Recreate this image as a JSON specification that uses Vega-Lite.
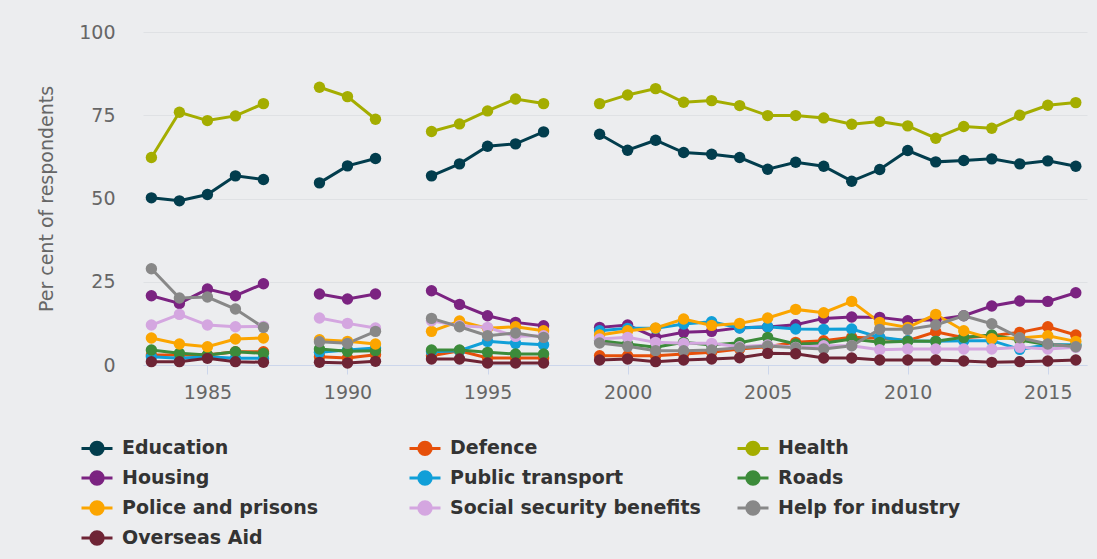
{
  "$schema": "https://vega.github.io/schema/vega-lite/v6.json",
  "width": 944,
  "height": 333,
  "autosize": "none",
  "padding": {"left": 143, "top": 32, "right": 10, "bottom": 194},
  "background": "#ecedef",
  "config": {"view": {"stroke": null}, "font": "DejaVu Sans"},
  "data": {"values": [
    {"year": 1983, "p": 1, "Education": 50.2, "Defence": 3.0, "Health": 62.3, "Housing": 20.8, "Public transport": 2.5, "Roads": 4.5, "Police and prisons": 8.1, "Social security benefits": 12.0, "Help for industry": 28.9, "Overseas Aid": 1.0},
    {"year": 1984, "p": 1, "Education": 49.3, "Defence": 3.0, "Health": 75.9, "Housing": 18.5, "Public transport": 2.0, "Roads": 3.5, "Police and prisons": 6.3, "Social security benefits": 15.2, "Help for industry": 20.1, "Overseas Aid": 1.0},
    {"year": 1985, "p": 1, "Education": 51.2, "Defence": 3.0, "Health": 73.4, "Housing": 22.8, "Public transport": 2.5, "Roads": 3.0, "Police and prisons": 5.5, "Social security benefits": 12.0, "Help for industry": 20.4, "Overseas Aid": 2.0},
    {"year": 1986, "p": 1, "Education": 56.8, "Defence": 4.0, "Health": 74.8, "Housing": 20.8, "Public transport": 2.0, "Roads": 4.0, "Police and prisons": 7.8, "Social security benefits": 11.5, "Help for industry": 16.8, "Overseas Aid": 1.0},
    {"year": 1987, "p": 1, "Education": 55.7, "Defence": 4.0, "Health": 78.5, "Housing": 24.4, "Public transport": 2.0, "Roads": 3.5, "Police and prisons": 8.1, "Social security benefits": 11.6, "Help for industry": 11.3, "Overseas Aid": 0.8},
    {"year": 1989, "p": 2, "Education": 54.7, "Defence": 2.5, "Health": 83.4, "Housing": 21.3, "Public transport": 3.8, "Roads": 4.8, "Police and prisons": 7.6, "Social security benefits": 14.1, "Help for industry": 7.0, "Overseas Aid": 0.8},
    {"year": 1990, "p": 2, "Education": 59.8, "Defence": 2.1, "Health": 80.6, "Housing": 19.8, "Public transport": 4.5, "Roads": 4.1, "Police and prisons": 7.1, "Social security benefits": 12.5, "Help for industry": 6.5, "Overseas Aid": 0.6},
    {"year": 1991, "p": 2, "Education": 62.0, "Defence": 3.1, "Health": 73.8, "Housing": 21.3, "Public transport": 5.1, "Roads": 4.3, "Police and prisons": 6.3, "Social security benefits": 11.1, "Help for industry": 10.1, "Overseas Aid": 1.1},
    {"year": 1993, "p": 3, "Education": 56.8, "Defence": 2.8, "Health": 70.1, "Housing": 22.3, "Public transport": 4.0, "Roads": 4.5, "Police and prisons": 10.1, "Social security benefits": 13.3, "Help for industry": 14.0, "Overseas Aid": 1.8},
    {"year": 1994, "p": 3, "Education": 60.4, "Defence": 4.3, "Health": 72.4, "Housing": 18.2, "Public transport": 4.3, "Roads": 4.5, "Police and prisons": 13.2, "Social security benefits": 11.8, "Help for industry": 11.5, "Overseas Aid": 1.8},
    {"year": 1995, "p": 3, "Education": 65.7, "Defence": 2.1, "Health": 76.3, "Housing": 14.8, "Public transport": 7.1, "Roads": 3.8, "Police and prisons": 11.0, "Social security benefits": 11.3, "Help for industry": 8.8, "Overseas Aid": 0.6},
    {"year": 1996, "p": 3, "Education": 66.4, "Defence": 2.1, "Health": 79.9, "Housing": 12.8, "Public transport": 6.5, "Roads": 3.3, "Police and prisons": 11.5, "Social security benefits": 8.6, "Help for industry": 9.6, "Overseas Aid": 0.6},
    {"year": 1997, "p": 3, "Education": 70.0, "Defence": 2.1, "Health": 78.5, "Housing": 11.8, "Public transport": 6.1, "Roads": 3.3, "Police and prisons": 10.3, "Social security benefits": 8.8, "Help for industry": 8.3, "Overseas Aid": 0.6},
    {"year": 1999, "p": 4, "Education": 69.3, "Defence": 2.8, "Health": 78.5, "Housing": 11.3, "Public transport": 10.3, "Roads": 7.3, "Police and prisons": 9.0, "Social security benefits": 7.8, "Help for industry": 6.6, "Overseas Aid": 1.5},
    {"year": 2000, "p": 4, "Education": 64.5, "Defence": 2.8, "Health": 81.1, "Housing": 12.0, "Public transport": 11.0, "Roads": 6.3, "Police and prisons": 10.3, "Social security benefits": 8.3, "Help for industry": 5.6, "Overseas Aid": 1.8},
    {"year": 2001, "p": 4, "Education": 67.5, "Defence": 2.8, "Health": 83.0, "Housing": 8.3, "Public transport": 11.0, "Roads": 5.3, "Police and prisons": 11.1, "Social security benefits": 6.8, "Help for industry": 4.3, "Overseas Aid": 1.0},
    {"year": 2002, "p": 4, "Education": 63.8, "Defence": 3.3, "Health": 78.9, "Housing": 9.8, "Public transport": 12.3, "Roads": 6.8, "Police and prisons": 13.8, "Social security benefits": 6.5, "Help for industry": 4.3, "Overseas Aid": 1.5},
    {"year": 2003, "p": 4, "Education": 63.3, "Defence": 3.8, "Health": 79.4, "Housing": 10.1, "Public transport": 13.0, "Roads": 6.0, "Police and prisons": 11.9, "Social security benefits": 6.5, "Help for industry": 4.5, "Overseas Aid": 1.8},
    {"year": 2004, "p": 4, "Education": 62.3, "Defence": 4.8, "Health": 77.9, "Housing": 11.2, "Public transport": 11.1, "Roads": 6.7, "Police and prisons": 12.5, "Social security benefits": 5.5, "Help for industry": 5.2, "Overseas Aid": 2.2},
    {"year": 2005, "p": 4, "Education": 58.8, "Defence": 5.5, "Health": 74.9, "Housing": 11.4, "Public transport": 11.5, "Roads": 8.3, "Police and prisons": 14.1, "Social security benefits": 6.0, "Help for industry": 5.7, "Overseas Aid": 3.5},
    {"year": 2006, "p": 4, "Education": 60.9, "Defence": 6.8, "Health": 74.9, "Housing": 12.1, "Public transport": 10.8, "Roads": 6.3, "Police and prisons": 16.7, "Social security benefits": 5.3, "Help for industry": 5.2, "Overseas Aid": 3.4},
    {"year": 2007, "p": 4, "Education": 59.7, "Defence": 7.3, "Health": 74.2, "Housing": 14.0, "Public transport": 10.7, "Roads": 6.5, "Police and prisons": 15.7, "Social security benefits": 5.8, "Help for industry": 4.8, "Overseas Aid": 2.1},
    {"year": 2008, "p": 4, "Education": 55.2, "Defence": 8.3, "Health": 72.3, "Housing": 14.4, "Public transport": 10.8, "Roads": 7.8, "Police and prisons": 19.1, "Social security benefits": 5.8, "Help for industry": 5.8, "Overseas Aid": 2.1},
    {"year": 2009, "p": 4, "Education": 58.7, "Defence": 8.0, "Health": 73.1, "Housing": 14.3, "Public transport": 8.3, "Roads": 6.8, "Police and prisons": 12.8, "Social security benefits": 4.6, "Help for industry": 10.7, "Overseas Aid": 1.5},
    {"year": 2010, "p": 4, "Education": 64.4, "Defence": 7.3, "Health": 71.8, "Housing": 13.3, "Public transport": 7.3, "Roads": 7.1, "Police and prisons": 11.3, "Social security benefits": 4.8, "Help for industry": 10.7, "Overseas Aid": 1.5},
    {"year": 2011, "p": 4, "Education": 61.0, "Defence": 10.0, "Health": 68.1, "Housing": 13.6, "Public transport": 7.1, "Roads": 7.1, "Police and prisons": 15.2, "Social security benefits": 4.8, "Help for industry": 12.0, "Overseas Aid": 1.5},
    {"year": 2012, "p": 4, "Education": 61.4, "Defence": 8.2, "Health": 71.6, "Housing": 14.8, "Public transport": 7.3, "Roads": 8.3, "Police and prisons": 10.3, "Social security benefits": 4.8, "Help for industry": 14.8, "Overseas Aid": 1.2},
    {"year": 2013, "p": 4, "Education": 61.9, "Defence": 8.8, "Health": 71.1, "Housing": 17.7, "Public transport": 7.3, "Roads": 9.0, "Police and prisons": 7.9, "Social security benefits": 4.8, "Help for industry": 12.4, "Overseas Aid": 0.8},
    {"year": 2014, "p": 4, "Education": 60.4, "Defence": 9.8, "Health": 75.0, "Housing": 19.2, "Public transport": 4.7, "Roads": 7.5, "Police and prisons": 8.1, "Social security benefits": 5.3, "Help for industry": 8.2, "Overseas Aid": 1.0},
    {"year": 2015, "p": 4, "Education": 61.3, "Defence": 11.5, "Health": 78.0, "Housing": 19.1, "Public transport": 6.1, "Roads": 6.1, "Police and prisons": 8.8, "Social security benefits": 4.8, "Help for industry": 6.3, "Overseas Aid": 1.2},
    {"year": 2016, "p": 4, "Education": 59.7, "Defence": 9.0, "Health": 78.8, "Housing": 21.7, "Public transport": 6.1, "Roads": 5.8, "Police and prisons": 7.1, "Social security benefits": 5.3, "Help for industry": 5.5, "Overseas Aid": 1.5}
  ]},
  "transform": [
    {"fold": ["Education", "Defence", "Health", "Housing", "Public transport", "Roads", "Police and prisons", "Social security benefits", "Help for industry", "Overseas Aid"], "as": ["series", "value"]}
  ],
  "encoding": {
    "x": {
      "field": "year", "type": "quantitative",
      "scale": {"domain": [1982.7, 2016.4], "nice": false, "zero": false},
      "axis": {
        "title": null, "values": [1985, 1990, 1995, 2000, 2005, 2010, 2015], "format": "d",
        "grid": false, "domainColor": "#ccd6eb", "domainWidth": 1,
        "tickColor": "#ccd6eb", "tickSize": 9, "tickWidth": 1,
        "labelColor": "#666666", "labelFontSize": 19, "labelFont": "DejaVu Sans", "labelPadding": 9
      }
    },
    "y": {
      "field": "value", "type": "quantitative",
      "scale": {"domain": [0, 100], "nice": false},
      "axis": {
        "title": "Per cent of respondents", "values": [0, 25, 50, 75, 100],
        "grid": true, "gridColor": "#dfe1e4", "gridWidth": 1,
        "domain": false, "ticks": false,
        "labelColor": "#666666", "labelFontSize": 19, "labelFont": "DejaVu Sans", "labelPadding": 28,
        "titleColor": "#666666", "titleFontSize": 19, "titleFont": "DejaVu Sans", "titleFontWeight": "normal", "titlePadding": 22
      }
    },
    "color": {
      "field": "series", "type": "nominal",
      "scale": {
        "domain": ["Education", "Defence", "Health", "Housing", "Public transport", "Roads", "Police and prisons", "Social security benefits", "Help for industry", "Overseas Aid"],
        "range": ["#023d4d", "#e6500a", "#a4ad00", "#7b2381", "#109fd8", "#3c8b3a", "#fba500", "#d4a6e0", "#888888", "#6e2435"]
      },
      "legend": {
        "title": null, "orient": "none", "legendX": -63, "legendY": 399,
        "direction": "horizontal",
        "columns": 3, "gridAlign": "all", "columnPadding": 30, "rowPadding": 0, "padding": 0,
        "symbolType": "M-1,0H1M-0.4,0A0.4,0.4 0 1 1 0.4,0A0.4,0.4 0 1 1 -0.4,0Z",
        "symbolSize": 961, "symbolStrokeWidth": 3, "symbolOpacity": 1,
        "labelFont": "DejaVu Sans", "labelFontSize": 19, "labelFontWeight": "bold", "labelColor": "#333333",
        "labelOffset": 8, "labelLimit": 400,
        "encode": {"symbols": {"update": {"fill": {"scale": "color", "field": "value"}, "stroke": {"scale": "color", "field": "value"}, "strokeWidth": {"value": 3}, "opacity": {"value": 1}}}}
      }
    },
    "detail": {"field": "p", "type": "nominal"}
  },
  "layer": [
    {"mark": {"type": "line", "strokeWidth": 3}},
    {"mark": {"type": "point", "filled": true, "size": 130, "opacity": 1}}
  ]
}
